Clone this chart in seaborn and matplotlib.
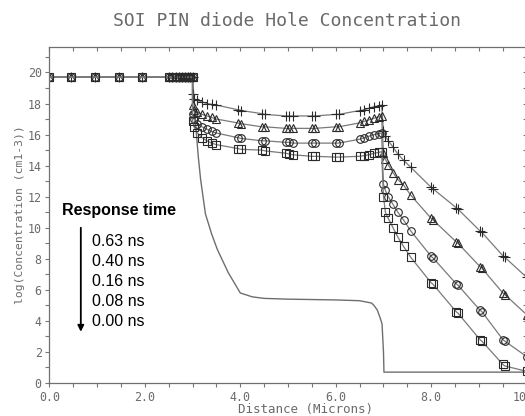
import numpy as np
import pandas as pd
import matplotlib
matplotlib.use("Agg")
import matplotlib.pyplot as plt
import seaborn as sns

# ---------------- data ----------------
# shared flat region (all time steps)
x_flat = [0.0, 0.45, 0.95, 1.45, 1.95, 2.5, 2.58, 2.65, 2.72, 2.78, 2.84, 2.9, 2.95, 3.0]
y_flat = [19.7] * 14

# x grid of the marked curves after x = 3.0
x_curve = [3.0, 3.03, 3.1, 3.2, 3.3, 3.4, 3.5, 3.95, 4.02, 4.45, 4.52, 4.95, 5.02, 5.1,
           5.5, 5.56, 6.0, 6.06, 6.5, 6.6, 6.7, 6.8, 6.9, 6.96,
           7.0, 7.04, 7.1, 7.2, 7.3, 7.42, 7.57, 8.0, 8.04, 8.52, 8.56, 9.02, 9.06, 9.5, 9.54, 10.0]

y_063 = [18.6, 18.3, 18.2, 18.1, 18.0, 17.95, 17.9, 17.6, 17.55, 17.35, 17.3, 17.2, 17.2, 17.2,
         17.2, 17.2, 17.3, 17.3, 17.55, 17.6, 17.7, 17.8, 17.85, 17.9,
         16.2, 15.9, 15.6, 15.2, 14.75, 14.35, 13.9, 12.6, 12.5, 11.3, 11.2, 9.8, 9.7, 8.2, 8.1, 6.8]
y_040 = [17.9, 17.6, 17.45, 17.3, 17.2, 17.1, 17.0, 16.75, 16.7, 16.5, 16.5, 16.4, 16.4, 16.4,
         16.4, 16.4, 16.5, 16.5, 16.75, 16.85, 16.95, 17.05, 17.15, 17.2,
         14.8, 14.4, 14.05, 13.55, 13.1, 12.75, 12.1, 10.6, 10.5, 9.1, 9.0, 7.5, 7.4, 5.8, 5.7, 4.4]
y_016 = [17.3, 17.0, 16.7, 16.5, 16.35, 16.2, 16.1, 15.8, 15.75, 15.6, 15.6, 15.5, 15.5, 15.45,
         15.45, 15.45, 15.45, 15.45, 15.7, 15.8, 15.9, 16.0, 16.05, 16.1,
         12.8, 12.4, 12.0, 11.5, 11.0, 10.5, 9.8, 8.15, 8.05, 6.4, 6.3, 4.7, 4.6, 2.8, 2.7, 1.7]
y_008 = [16.9, 16.5, 16.1, 15.8, 15.6, 15.45, 15.35, 15.1, 15.05, 15.0, 14.95, 14.8, 14.75, 14.7,
         14.6, 14.6, 14.55, 14.55, 14.6, 14.65, 14.7, 14.8, 14.85, 14.9,
         12.0, 11.0, 10.6, 10.0, 9.4, 8.8, 8.1, 6.45, 6.35, 4.6, 4.5, 2.8, 2.7, 1.2, 1.1, 0.75]

# 0.00 ns curve (no markers)
x_000 = [0.0, 3.0, 3.03, 3.07, 3.12, 3.17, 3.27, 3.4, 3.52, 3.75, 4.0, 4.25, 4.5, 5.0, 6.0,
         6.5, 6.75, 6.8, 6.87, 6.93, 6.97, 7.0, 7.01, 10.0]
y_000 = [19.7, 19.7, 18.2, 16.5, 14.6, 13.1, 10.9, 9.6, 8.6, 7.1, 5.8, 5.55, 5.45, 5.4, 5.35,
         5.3, 5.15, 5.0, 4.7, 4.2, 3.8, 2.0, 0.7, 0.7]

series_names = ["0.63 ns", "0.40 ns", "0.16 ns", "0.08 ns"]
series_y = [y_063, y_040, y_016, y_008]
series_markers = ["+", "^", "o", "s"]

legend_title = "Response time"
legend_labels = ["0.63 ns", "0.40 ns", "0.16 ns", "0.08 ns", "0.00 ns"]

title = "SOI PIN diode Hole Concentration"
xlabel = "Distance (Microns)"
ylabel = "log(Concentration (cm1-3))"
x_ticks = [0, 2, 4, 6, 8, 10]
x_ticklabels = ["0.0", "2.0", "4.0", "6.0", "8.0", "10.0"]
y_ticks = [0, 2, 4, 6, 8, 10, 12, 14, 16, 18, 20]
y_ticklabels = ["0", "2", "4", "6", "8", "10", "12", "14", "16", "18", "20"]

# ---------------- figure ----------------
sns.set_theme(style="white")
plt.rcParams["font.family"] = ["DejaVu Sans Mono", "DejaVu Sans"]

W, H = 525, 416
fig = plt.figure(figsize=(W / 100, H / 100), dpi=100)
x0px, x1px = 49.3, 526.7
ytop, ybot = 46.7, 383.0
ax = fig.add_axes([x0px / W, 1 - ybot / H, (x1px - x0px) / W, (ybot - ytop) / H])

line_col = "#7a7a7a"
mark_col = "#2a2a2a"

# plain 0.00 ns curve
sns.lineplot(x=x_000, y=y_000, ax=ax, color="#6e6e6e", lw=1.0, sort=False, estimator=None)

for name, ys, mk in zip(series_names, series_y, series_markers):
    xs = x_flat + x_curve
    yy = y_flat + ys
    df = pd.DataFrame({"x": xs, "y": yy})
    sns.lineplot(data=df, x="x", y="y", ax=ax, sort=False, estimator=None,
                 color=line_col, lw=0.9, marker=mk, markersize=5.5 if mk != "+" else 7,
                 markerfacecolor="none", markeredgecolor=mark_col, markeredgewidth=0.8)

ax.set_xlim(0, 10)
ax.set_ylim(0, 21.66)

ax.set_xticks(x_ticks)
ax.set_xticklabels(x_ticklabels)
ax.set_yticks(y_ticks)
ax.set_yticklabels(y_ticklabels)
ax.set_xticks(np.arange(0, 10.01, 0.5), minor=True)
ax.set_yticks(np.arange(0, 21.5, 1.0), minor=True)

tick_col = "#777777"
ax.tick_params(axis="both", which="both", direction="out", length=3, width=0.8,
               color=tick_col, labelcolor="#6a6a6a", labelsize=8.4)
ax.tick_params(axis="x", which="major", pad=2.5)
ax.tick_params(axis="y", which="major", pad=2.5)
ax.tick_params(left=True, bottom=True, which="both")

secx = ax.secondary_xaxis("top")
secx.set_xticks(x_ticks)
secx.set_xticks(np.arange(0, 10.01, 0.5), minor=True)
secx.tick_params(axis="x", which="both", direction="in", length=3, width=0.8,
                 color=tick_col, labeltop=False)
secy = ax.secondary_yaxis("right")
secy.set_yticks(y_ticks)
secy.set_yticks(np.arange(0, 21.5, 1.0), minor=True)
secy.tick_params(axis="y", which="both", direction="in", length=3, width=0.8,
                 color=tick_col, labelright=False)
for s in list(secx.spines.values()) + list(secy.spines.values()):
    s.set_visible(False)

for sp in ax.spines.values():
    sp.set_color("#707070")
    sp.set_linewidth(0.9)

ax.set_xlabel(xlabel, fontsize=9, color="#6a6a6a")
ax.xaxis.set_label_coords((305 - x0px) / (x1px - x0px), -(403.5 - ybot) / (ybot - ytop))
ax.set_ylabel(ylabel, fontsize=8.2, color="#6a6a6a")
ax.yaxis.set_label_coords((25 - x0px) / (x1px - x0px), 0.5)

fig.text(287 / W, 1 - 26 / H, title, ha="center", va="baseline", fontsize=13,
         color="#6a6a6a", family="DejaVu Sans Mono")

# annotation
ax.text(0.27, 10.84, legend_title, fontsize=11.5, fontweight="bold",
        family="Liberation Sans", color="black", va="baseline", ha="left")
base = 8.84
for i, lab in enumerate(legend_labels):
    ax.text(0.9, base - i * 1.29, lab, fontsize=11.5, family="Liberation Sans",
            color="black", va="baseline", ha="left")
ax.annotate("", xy=(0.66, 3.3), xytext=(0.66, 10.0),
            arrowprops=dict(arrowstyle="-|>", color="black", lw=1.3, mutation_scale=9,
                            shrinkA=0, shrinkB=0))

fig.savefig("out.png", dpi=100)
